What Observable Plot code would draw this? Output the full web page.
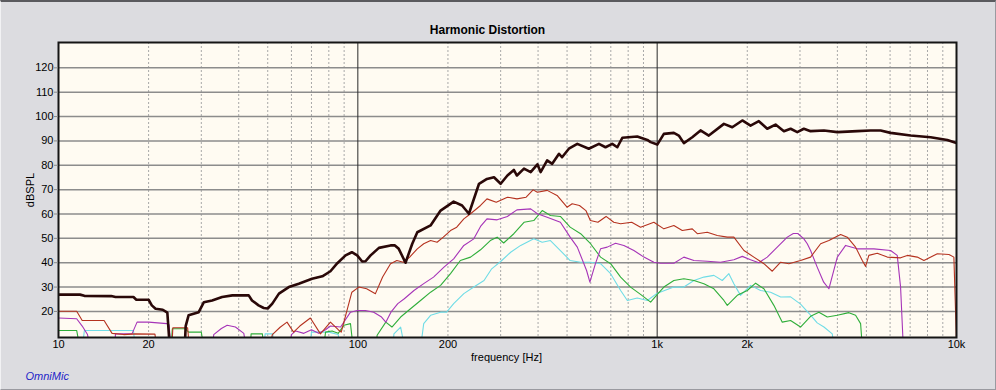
<!DOCTYPE html>
<html><head><meta charset="utf-8">
<script src="https://cdn.jsdelivr.net/npm/d3@7"></script>
<script src="https://cdn.jsdelivr.net/npm/@observablehq/plot@0.6"></script>
<style>
html,body{margin:0;padding:0;background:#dcdce0;}
#wrap{position:relative;width:996px;height:390px;overflow:hidden;}
#wrap::after{content:"";position:absolute;left:0;top:0;right:0;bottom:0;border-top:2px solid #5a5a5e;border-left:1px solid #f2f2f4;border-right:1px solid #9a9aa0;border-bottom:1px solid #9a9aa0;pointer-events:none;}
</style></head><body><div id="wrap"></div>
<script>
// Tick labels / grid
const xTicks = [10, 20, 50, 100, 200, 500, 1000, 2000, 5000, 10000];
const yTicks = [20, 30, 40, 50, 60, 70, 80, 90, 100, 110, 120];
const minorGrid = [20,30,40,50,60,70,80,90,200,300,400,500,600,700,800,900,2000,3000,4000,5000,6000,7000,8000,9000];
const majorGrid = [100, 1000];

// Fundamental (dBSPL)
const freqMain = [10,11.8,12.2,15,15.5,17.8,18.2,20,20.5,21.1,22.3,23.1,23.7,26.3,26.6,27.2,29.4,30.6,32.6,35.2,38.1,43.2,44.3,46.6,48.5,50,51.8,54.5,58.8,63.5,70.3,76.1,81,85.4,91,95.5,99.5,103.4,106.1,110.3,117.6,128.6,133,137,144.3,152,158,175,189,209,223,235,254,270,285,300,316,332,340,359,378,398,408,429,446,470,481,507,541,591,639,672,708,736,765,858,927,951,1001,1053,1137,1181,1228,1310,1396,1488,1671,1782,1925,2051,2186,2332,2486,2651,2791,2938,3091,3255,3607,3998,4662,5164,5577,6023,7026,8195,9318,10000];
const splMain = [26.9,26.9,26.4,26.3,25.9,25.9,24.8,24.8,22.5,21.1,20.7,19.5,0,0,14,18.4,19.7,23.8,24.5,25.9,26.6,26.6,24.5,22.5,21.4,21.2,23.2,27.3,30,31.4,33.4,34.4,36.5,39.8,43,44.3,43,40.5,40.6,43,46.1,47.1,47.1,45.7,40,47.8,52.5,55.3,61.4,65.1,63.5,60.1,72.4,74.4,75.1,72.4,75.8,78.1,75.8,78.6,77.2,80.4,77.2,82,80.6,84.7,83.3,86.8,88.8,86.8,88.8,87.4,88.8,87.4,91.3,91.8,90.4,89.5,88.5,92.9,93.3,92.2,89.1,91.5,94.3,92.2,97,95.6,98.4,96.3,98.1,95,96.7,94,95,93.6,95,94,94.3,93.6,94,94.3,94.3,93.3,92.2,91.5,90.4,89.1];

// 2nd harmonic
const freqH2 = [10,11.5,12,14.2,15.1,16.5,18,21,21.5,23.8,24.1,27,27.6,50,51.8,55,58,61,64,69.4,75,81,86,88,92,95.5,100.8,107,114.5,121,128.6,135,142,149,158,166,175,184,193,204,214,226,238,257,270,290,316,340,365,385,398,429,463,500,520,550,578,598,634,675,716,755,822,880,975,1053,1137,1213,1310,1362,1470,1588,1715,1804,1949,2104,2273,2424,2585,2754,3013,3255,3516,3747,4101,4316,4601,4845,4970,5095,5437,5871,6504,6848,7396,7783,8627,9432,9801,9980,10000];
const splH2 = [20.1,20.1,16.3,16.3,11,10.5,10.8,10.7,0,0,13.3,13.3,0,0,10.5,13.5,15.6,11.5,14,17.3,10.8,15.6,12.5,11.5,20.4,27.9,30,29.3,27.3,34.1,39.6,40.9,40.2,42.3,45.7,47.8,49.1,48.4,50.5,53.2,54.6,58,60.1,63.5,66.2,64.8,66.9,66.2,66.9,69.9,68.9,69.7,67.6,62.8,64.2,63.5,61.4,57.3,56.6,59,56.6,56,56.6,54.6,56.6,53.9,55.3,53.2,53.9,51.9,52.5,51.2,50.5,50.5,45,42.3,39.6,36.5,40.2,39.6,40.9,42.3,47.8,49.1,51.6,50.5,46.4,40.9,38.5,43,43.9,42.3,42,43,42.3,40.9,43.7,43.4,42.3,11,0];

// 3rd harmonic
const freqH3 = [10,11.5,12,12.5,13,15.3,15.5,17.6,18.3,20,23,23.4,24,32.5,33,35,36.6,39,41.6,43,58.5,60,62,66,70,74,78,81,87.6,94.5,99.5,106,113,120,124,129,136,143,154,166,179,194,209,226,244,257,270,292,316,340,378,398,429,475,512,541,581,596,622,647,681,726,774,836,903,975,1026,1137,1228,1327,1470,1628,1804,1925,2051,2186,2332,2519,2721,2850,2950,3091,3173,3255,3425,3600,3747,3998,4262,4662,5297,6023,6339,6504,6672];
const splH3 = [17.3,17,14,10.5,0,0,10.8,10.8,15.6,15.6,15,14.5,0,0,10.5,13,14.3,13.6,11,0,0,10.5,12,11,12.5,11,12.5,14,13.6,19.7,20.4,20.4,19.7,17.7,15.6,19.7,23.2,25.2,28.6,31.4,34.1,38.2,41.6,47.1,49.8,54.9,58,57.6,59,61.7,62.1,60.1,58.7,56.6,50.5,46.4,36.8,32,39.6,45.7,46.4,48,47.1,45,42.3,40.2,39.8,39.8,42.3,40.9,40.6,40.2,41.2,42.6,41.2,40,42.3,46.4,50.5,52,52,49.8,47.8,45,38.2,32,29.3,42.3,47.1,45.7,45.7,45,43,30,0];

// 4th harmonic
const freqH4 = [10,11.5,12,23.6,24,26.5,27.2,30,31,43.5,44,48,48.8,76,78,82,86,89.8,94.5,97.5,114,116,124,130,139,150,162,175,189,204,220,238,257,277,292,307,332,359,387,413,440,475,512,555,599,647,699,755,815,880,951,1001,1053,1137,1228,1327,1432,1547,1671,1715,1852,2000,2133,2273,2454,2618,2791,3013,3255,3470,3701,3998,4370,4601,4782,4882];
const splH4 = [12.2,12.2,0,0,12.9,12.9,11.5,11.5,0,0,10.8,10.8,0,0,11.5,12,11,14.3,15,0,0,10.2,15.6,13.6,17.7,21.1,24.5,27.9,30.7,35.5,40.9,42.3,45.3,49.1,50.5,48.1,51.9,56.6,57.3,61.4,59.4,59,54.6,51.9,47.8,42.3,39.6,34.1,30,27,23.8,27,30,32.7,33.4,32.7,31.4,29.3,24.5,22.5,26.6,28.6,31.6,29.3,22.5,15.6,16.3,13.6,18,19.7,17.7,18.4,19.5,18.4,15,0];

// 5th harmonic
const freqH5 = [10,11.9,12.2,17.8,18.2,48.5,49,52,52.5,68.5,70,80,86,88,130,132,139,146,160,166,175,189,198,209,226,244,264,280,300,324,350,387,413,440,475,512,555,599,647,699,755,795,858,927,1001,1137,1228,1327,1432,1547,1650,1736,1804,1899,2051,2216,2393,2585,2791,3013,3255,3425,3607,3846,3950];
const splH5 = [0,0,12.2,12.2,0,0,10.8,10.8,0,0,11.5,11.5,10.5,0,0,10.8,13.6,0,0,15,18.4,19.7,19.7,23.2,27.3,30,32.7,37.5,40.5,44.3,47.1,49.8,48.4,49.1,45,40.9,40.2,40.2,39.6,35.5,28.6,24.5,25.5,24.5,27.5,30,30,32.7,34.1,34.8,32.7,35.5,31.4,26.6,30.7,28.6,27.9,25.9,26,23,18.5,15.3,13.6,10.8,0];

const rows = (f, v) => f.map((x, i) => ({f: x, v: v[i]}));
const fmt = d => d >= 1000 ? (d / 1000) + "k" : String(d);
const line = (f, v, color, w) => Plot.line(rows(f, v), {x: "f", y: "v", stroke: color, strokeWidth: w, clip: true, strokeLinejoin: "round"});

const chart = Plot.plot({
  width: 996, height: 390,
  marginLeft: 58, marginRight: 40, marginTop: 42, marginBottom: 53,
  style: {background: "transparent", fontFamily: "'Liberation Sans', Arial, sans-serif", fontSize: "11px", color: "#000"},
  x: {type: "log", domain: [10, 10000]},
  y: {domain: [9.3, 130.4]},
  marks: [
    Plot.frame({fill: "#fffbf2", stroke: null}),
    Plot.ruleX(minorGrid, {stroke: "#a8a8a8", strokeDasharray: "2,2"}),
    Plot.ruleY(yTicks, {stroke: "#8c8c8c", strokeWidth: 1.5}),
    Plot.ruleX(majorGrid, {stroke: "#2a2a2a", strokeWidth: 1}),
    line(freqH5, splH5, "#6fdce6", 1.1),
    line(freqH4, splH4, "#2fae3a", 1.1),
    line(freqH3, splH3, "#a634b8", 1.1),
    line(freqH2, splH2, "#b5321f", 1.1),
    line(freqMain, splMain, "#2a0808", 2.6),
    Plot.frame({stroke: "#151515", strokeWidth: 2}),
    Plot.axisY(yTicks, {tickSize: 4, tickPadding: 1, label: null, stroke: "#888", fill: "#000"}),
    Plot.axisX(xTicks, {tickSize: 0, tickPadding: 3, label: null, tickFormat: fmt}),
    Plot.text(["Harmonic Distortion"], {text: d => d, frameAnchor: "top", dy: -12, dx: -20, lineAnchor: "middle", textAnchor: "middle", fontWeight: "bold", fontSize: 12}),
    Plot.text(["dBSPL"], {text: d => d, frameAnchor: "left", dx: -28, rotate: -90, lineAnchor: "middle", textAnchor: "middle", fontSize: 11}),
    Plot.text(["frequency [Hz]"], {text: d => d, frameAnchor: "bottom", dy: 20, dx: -1, lineAnchor: "middle", textAnchor: "middle", fontSize: 11}),
    Plot.text(["OmniMic"], {text: d => d, frameAnchor: "bottom-left", dx: -33, dy: 39, lineAnchor: "middle", textAnchor: "start", fill: "#2424c8", fontStyle: "italic", fontSize: 11})
  ]
});
document.getElementById("wrap").appendChild(chart);
</script>
</body></html>
